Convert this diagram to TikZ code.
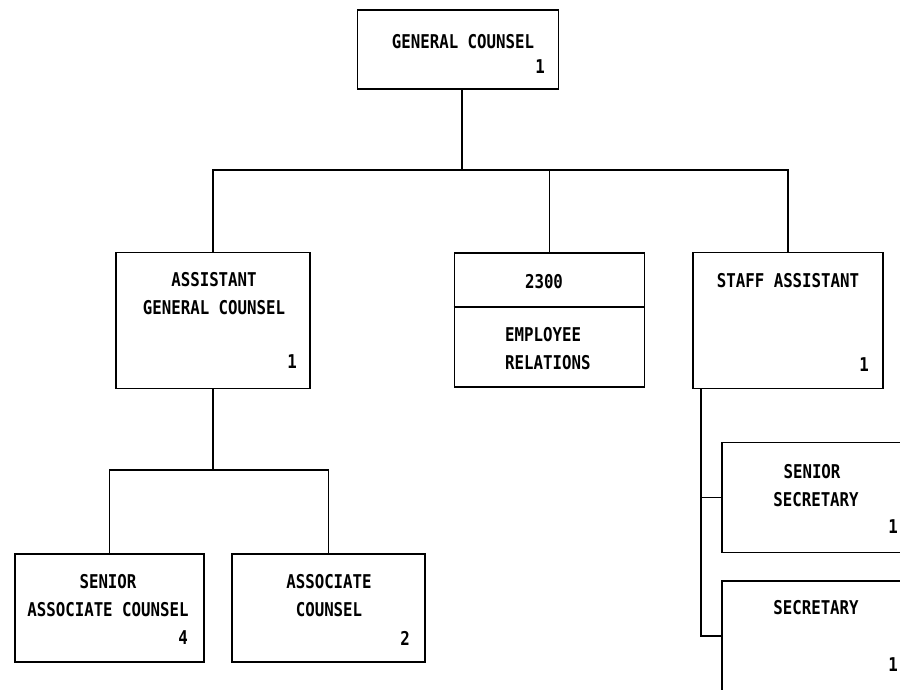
\documentclass[tikz,border=0pt]{standalone}
\usepackage{fontspec}
\newfontfamily\orgfont[FakeStretch=0.83]{DejaVu Sans Mono}
\begin{document}
\begin{tikzpicture}[x=1pt,y=-1pt,
  box/.style={draw,line width=1.6pt,rectangle,inner sep=0pt},
  lbl/.style={inner sep=0pt,align=center,font=\orgfont\bfseries\fontsize{19}{28}\selectfont},
  conn/.style={line width=1.6pt}]
\useasboundingbox (0,0) rectangle (900,689);
\clip (0,0) rectangle (900,689);
% boxes
\node[box,minimum width=201pt,minimum height=79pt] (gc) at (458,49.5) {};
\node[box,minimum width=194pt,minimum height=136pt] (agc) at (213,320.5) {};
\node[box,minimum width=190pt,minimum height=134pt] (er) at (549.5,320) {};
\node[box,minimum width=190pt,minimum height=136pt] (sa) at (788,320.5) {};
\node[box,minimum width=189pt,minimum height=108pt] (sac) at (109.5,608) {};
\node[box,minimum width=193pt,minimum height=108pt] (ac) at (328.5,608) {};
\node[box,minimum width=191pt,minimum height=110pt] (ss) at (817.5,497.5) {};
\node[box,minimum width=191pt,minimum height=110pt] (sec) at (817.5,636) {};
\draw[conn] (er.west |- 0,307) -- (er.east |- 0,307);
% texts
\node[lbl] (gct) at (463,42) {GENERAL COUNSEL};
\node[lbl] (gcn) at (540,67) {1};
\node[lbl] (agct) at (214,294) {ASSISTANT\\GENERAL COUNSEL};
\node[lbl] (agcn) at (292,362) {1};
\node[lbl] (ert) at (544,282) {2300};
\node[lbl,align=left,anchor=west] (erl) at (505,348.5) {EMPLOYEE\\RELATIONS};
\node[lbl] (sat) at (788,281) {STAFF ASSISTANT};
\node[lbl] (san) at (864,365) {1};
\node[lbl] (sact) at (108,596) {SENIOR\\ASSOCIATE COUNSEL};
\node[lbl] (sacn) at (183,638) {4};
\node[lbl] (act) at (329,596) {ASSOCIATE\\COUNSEL};
\node[lbl] (acn) at (405,638) {2};
\node[lbl] (sst1) at (812,472) {SENIOR};
\node[lbl] (sst2) at (816,500) {SECRETARY};
\node[lbl] (ssn) at (893,527) {1};
\node[lbl] (sect) at (816,608) {SECRETARY};
\node[lbl] (secn) at (893,665) {1};
% connectors
\coordinate (bus) at (462,170);
\draw[conn] ([xshift=4pt]gc.south) -- (bus);
\draw[conn] (agc.north) |- (sa.north |- bus) -- (sa.north);
\draw[conn] (er.north) -- (er.north |- bus);
\coordinate (bus2) at (213,470);
\draw[conn] (agc.south) -- (bus2);
\draw[conn] (sac.north) |- (ac.north |- bus2) -- (ac.north);
\coordinate (sd) at ([xshift=9pt]sa.south west);
\draw[conn] (sd) |- (sec.west);
\draw[conn] (sd |- ss.west) -- (ss.west);
\end{tikzpicture}
\end{document}
